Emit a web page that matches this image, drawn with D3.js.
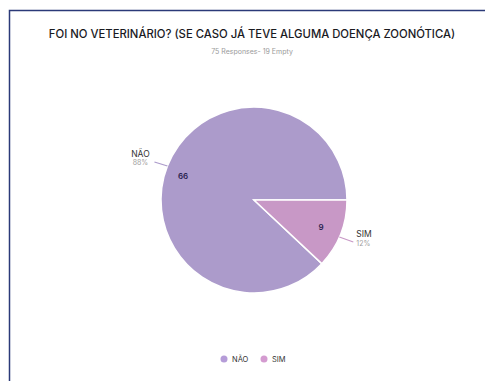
<!DOCTYPE html>
<html>
<head>
<meta charset="utf-8">
<script src="https://cdn.jsdelivr.net/npm/d3@7"></script>
<style>
  body { margin: 0; background: #fff; }
  svg { display: block; font-family: Inter, "Open Sans", sans-serif; }
</style>
</head>
<body>
<div id="chart"></div>
<script>
const categories = ["NÃO", "SIM"];
const values = [66, 9];
const colors = ["#ac9bcb", "#c898c6"];
const legendColors = ["#b59cd8", "#d49bd0"];
const titleText = "FOI NO VETERINÁRIO? (SE CASO JÁ TEVE ALGUMA DOENÇA ZOONÓTICA)";
const subtitleText = "75 Responses- 19 Empty";

const width = 485;
const height = 381;
const cx = 254, cy = 200, radius = 93;

const svg = d3.select("#chart")
  .append("svg")
  .attr("width", width)
  .attr("height", height);

// frame lines (top and left)
svg.append("path")
  .attr("d", `M9.5,${height} V10.5 H${width}`)
  .attr("fill", "none")
  .attr("stroke", "#2b3a78")
  .attr("stroke-width", 1.5);

svg.append("text")
  .attr("x", 252)
  .attr("y", 38)
  .attr("text-anchor", "middle")
  .style("font-size", "11.3px")
  .style("font-weight", 500)
  .style("fill", "#1a1a1f")
  .text(titleText);

svg.append("text")
  .attr("x", 252)
  .attr("y", 54)
  .attr("text-anchor", "middle")
  .style("font-size", "7px")
  .style("fill", "#9a9a9a")
  .text(subtitleText);

const data = categories.map((c, i) => ({ cat: c, value: values[i] }));
const total = d3.sum(values);

const start = Math.PI / 2 + 2 * Math.PI * values[1] / total;
const pie = d3.pie()
  .sort(null)
  .value(d => d.value)
  .startAngle(start)
  .endAngle(start + 2 * Math.PI);

const arc = d3.arc().innerRadius(0).outerRadius(radius);
const color = d3.scaleOrdinal().domain(categories).range(colors);

const g = svg.append("g").attr("transform", `translate(${cx},${cy})`);
const arcs = pie(data);

g.selectAll("path.slice")
  .data(arcs)
  .enter().append("path")
  .attr("class", "slice")
  .attr("d", arc)
  .attr("fill", d => color(d.data.cat))
  .attr("stroke", "#fff")
  .attr("stroke-width", 1.5);

// value labels inside
const valuePos = [[-71, -24], [67, 27]];
g.selectAll("text.val")
  .data(arcs)
  .enter().append("text")
  .attr("class", "val")
  .attr("x", (d, i) => valuePos[i][0])
  .attr("y", (d, i) => valuePos[i][1])
  .attr("text-anchor", "middle")
  .attr("dy", "0.35em")
  .style("font-size", "8px")
  .style("font-weight", 600)
  .style("fill", "#2a2350")
  .text(d => d.data.value);

// outside labels with leader lines
const fmt = d3.format(".0%");
const leaderAngles = [-1.196, 1.98];
arcs.forEach((d, i) => {
  const leftSide = i === 0;
  const ang = leaderAngles[i];
  const p0 = [Math.sin(ang) * radius, -Math.cos(ang) * radius];
  const p1 = leftSide ? [p0[0] - 13, p0[1] - 4] : [p0[0] + 14, p0[1] + 5];
  g.append("line")
    .attr("x1", p0[0]).attr("y1", p0[1])
    .attr("x2", p1[0]).attr("y2", p1[1])
    .attr("stroke", colors[i])
    .attr("stroke-width", 1.2);
  const tx = leftSide ? p1[0] - 14 : p1[0] + 3;
  const anchor = leftSide ? "middle" : "start";
  g.append("text")
    .attr("x", tx)
    .attr("y", p1[1] - 5)
    .attr("text-anchor", anchor)
    .style("font-size", "8.5px")
    .style("fill", "#333")
    .text(d.data.cat);
  g.append("text")
    .attr("x", tx)
    .attr("y", p1[1] + 3.5)
    .attr("text-anchor", anchor)
    .style("font-size", "7px")
    .style("fill", "#a0a0a0")
    .text(fmt(d.data.value / total));
});

// legend
const legendX = [224, 264];
const legend = svg.selectAll(".legend")
  .data(categories)
  .enter().append("g")
  .attr("class", "legend")
  .attr("transform", (d, i) => `translate(${legendX[i]},359)`);

legend.append("circle")
  .attr("r", 3.5)
  .attr("fill", (d, i) => legendColors[i]);

legend.append("text")
  .attr("x", 8)
  .attr("dy", "0.35em")
  .style("font-size", "7.5px")
  .style("fill", "#333")
  .text(d => d);
</script>
</body>
</html>
